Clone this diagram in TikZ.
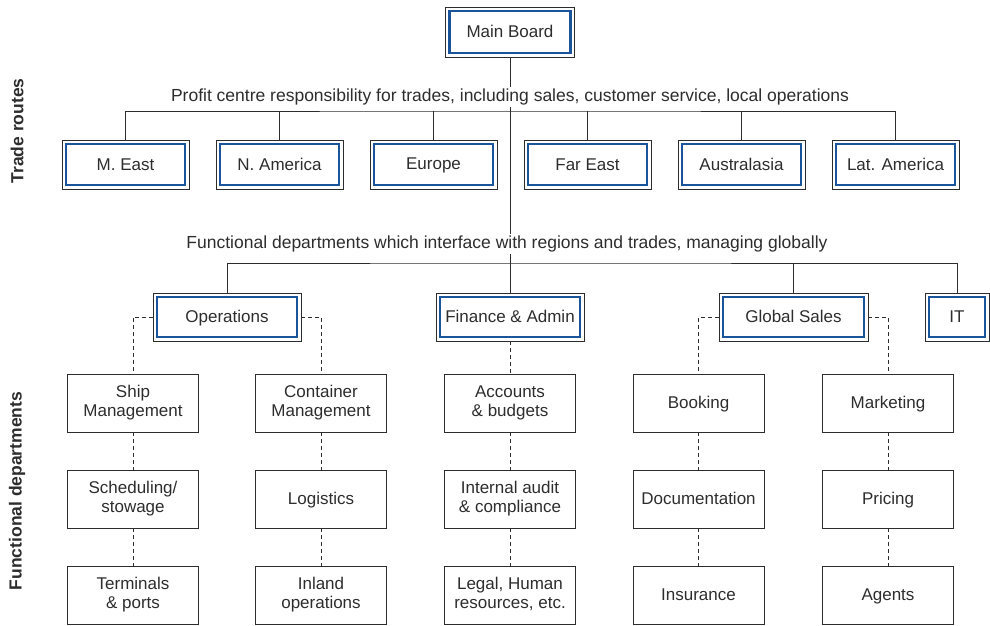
\documentclass[tikz,border=0pt]{standalone}
\usepackage{fontspec}
\setmainfont{Liberation Sans}
\definecolor{boxblue}{RGB}{28,84,156}
\definecolor{linegray}{RGB}{45,45,45}
\newcommand\bxstrut{\rule[-3.5pt]{0pt}{18pt}}
\begin{document}
\begin{tikzpicture}[x=1pt,y=-1pt,
  font=\fontsize{17}{19}\selectfont,
  every node/.style={text=linegray},
  outerbox/.style={draw=linegray, line width=0.9pt, inner sep=0pt, align=center,
    execute at begin node=\bxstrut, execute at end node=\bxstrut},
  mainbox/.style={outerbox, minimum height=50pt},
  tradebox/.style={outerbox, minimum width=127pt, minimum height=49pt},
  funcbox/.style={outerbox, minimum height=48pt},
  leafbox/.style={outerbox, minimum width=131pt, minimum height=58pt},
  thickblue/.style={draw=boxblue, line width=2.8pt},
  thinblue/.style={draw=boxblue, line width=1.3pt},
  conn/.style={draw=linegray, line width=0.9pt},
  dashconn/.style={draw=linegray, line width=0.9pt, dash pattern=on 4pt off 3pt},
  caption/.style={fill=white, inner sep=1.5pt, font=\fontsize{17.5}{20}\selectfont},
  sidelabel/.style={rotate=90, font=\fontsize{17.5}{20}\selectfont\bfseries}
]
\useasboundingbox (0,0) rectangle (990,626);

% main board
\node[mainbox, minimum width=129pt] (main) at (510,32) {Main Board};

% trade routes
\node[tradebox] (me)  at (125.5,164.5) {M. East};
\node[tradebox] (na)  at (279.5,164.5) {N. America};
\node[tradebox] (eu)  at (433.5,164.5) {Europe};
\node[tradebox] (fe)  at (587.5,164.5) {Far East};
\node[tradebox] (au)  at (741.5,164.5) {Australasia};
\node[tradebox] (la)  at (895.5,164.5) {Lat. America};

% functional heads
\node[funcbox, minimum width=148pt] (ops) at (227,317) {Operations};
\node[funcbox, minimum width=148pt] (fin) at (510,317) {Finance \& Admin};
\node[funcbox, minimum width=149pt] (gs)  at (793.5,317) {Global Sales};
\node[funcbox, minimum width=64pt]  (it)  at (957,317) {IT};

% inner blue frames
\foreach \n in {main,me,na,eu,fe,au,la}{
  \draw[thickblue] ([xshift=4.5pt,yshift=-4.5pt]\n.north west) rectangle ([xshift=-4.5pt,yshift=4.5pt]\n.south east);
}
\foreach \n in {ops,fin,gs,it}{
  \draw[thinblue] ([xshift=4.5pt,yshift=-4.5pt]\n.north west) rectangle ([xshift=-4.5pt,yshift=4.5pt]\n.south east);
}

% leaf boxes
\node[leafbox] (ship) at (133,403) {Ship\\Management};
\node[leafbox] (sched) at (133,499) {Scheduling/\\stowage};
\node[leafbox] (term) at (133,595) {Terminals\\\& ports};

\node[leafbox] (cont) at (321,403) {Container\\Management};
\node[leafbox] (logi) at (321,499) {Logistics};
\node[leafbox] (inl) at (321,595) {Inland\\operations};

\node[leafbox] (acc) at (510,403) {Accounts\\\& budgets};
\node[leafbox] (aud) at (510,499) {Internal audit\\\& compliance};
\node[leafbox] (leg) at (510,595) {Legal, Human\\resources, etc.};

\node[leafbox] (book) at (698.5,403) {Booking};
\node[leafbox] (doc) at (698.5,499) {Documentation};
\node[leafbox] (ins) at (698.5,595) {Insurance};

\node[leafbox] (mkt) at (888,403) {Marketing};
\node[leafbox] (pri) at (888,499) {Pricing};
\node[leafbox] (agt) at (888,595) {Agents};

% bars
\coordinate (tbar) at (510,111);
\coordinate (fbar) at (510,263);

% solid connectors
\draw[conn] (main.south) -- (fin.north);
\draw[conn] (me.north) |- (tbar) -| (la.north);
\foreach \n in {na,eu,fe,au}{ \draw[conn] (\n.north) -- (\n.north |- tbar); }
\draw[conn] (ops.north) |- (fbar) -| (it.north);
\draw[conn] (gs.north) -- (gs.north |- fbar);

% dashed connectors
\draw[dashconn] (ops.west) -| (ship.north);
\draw[dashconn] (ops.east) -| (cont.north);
\draw[dashconn] (fin.south) -- (acc.north);
\draw[dashconn] (gs.west) -| (book.north);
\draw[dashconn] (gs.east) -| (mkt.north);
\draw[dashconn] (ship) -- (sched) (sched) -- (term);
\draw[dashconn] (cont) -- (logi) (logi) -- (inl);
\draw[dashconn] (acc) -- (aud) (aud) -- (leg);
\draw[dashconn] (book) -- (doc) (doc) -- (ins);
\draw[dashconn] (mkt) -- (pri) (pri) -- (agt);

% captions
\node[caption] (cap1) at (510,97) {Profit centre responsibility for trades, including sales, customer service, local operations};
\node[caption] (cap2) at (507,244) {Functional departments which interface with regions and trades, managing globally};

% side labels
\node[sidelabel] (sl1) at (17,131) {Trade routes};
\node[sidelabel] (sl2) at (17,491) {Functional departments};
\end{tikzpicture}
\end{document}
